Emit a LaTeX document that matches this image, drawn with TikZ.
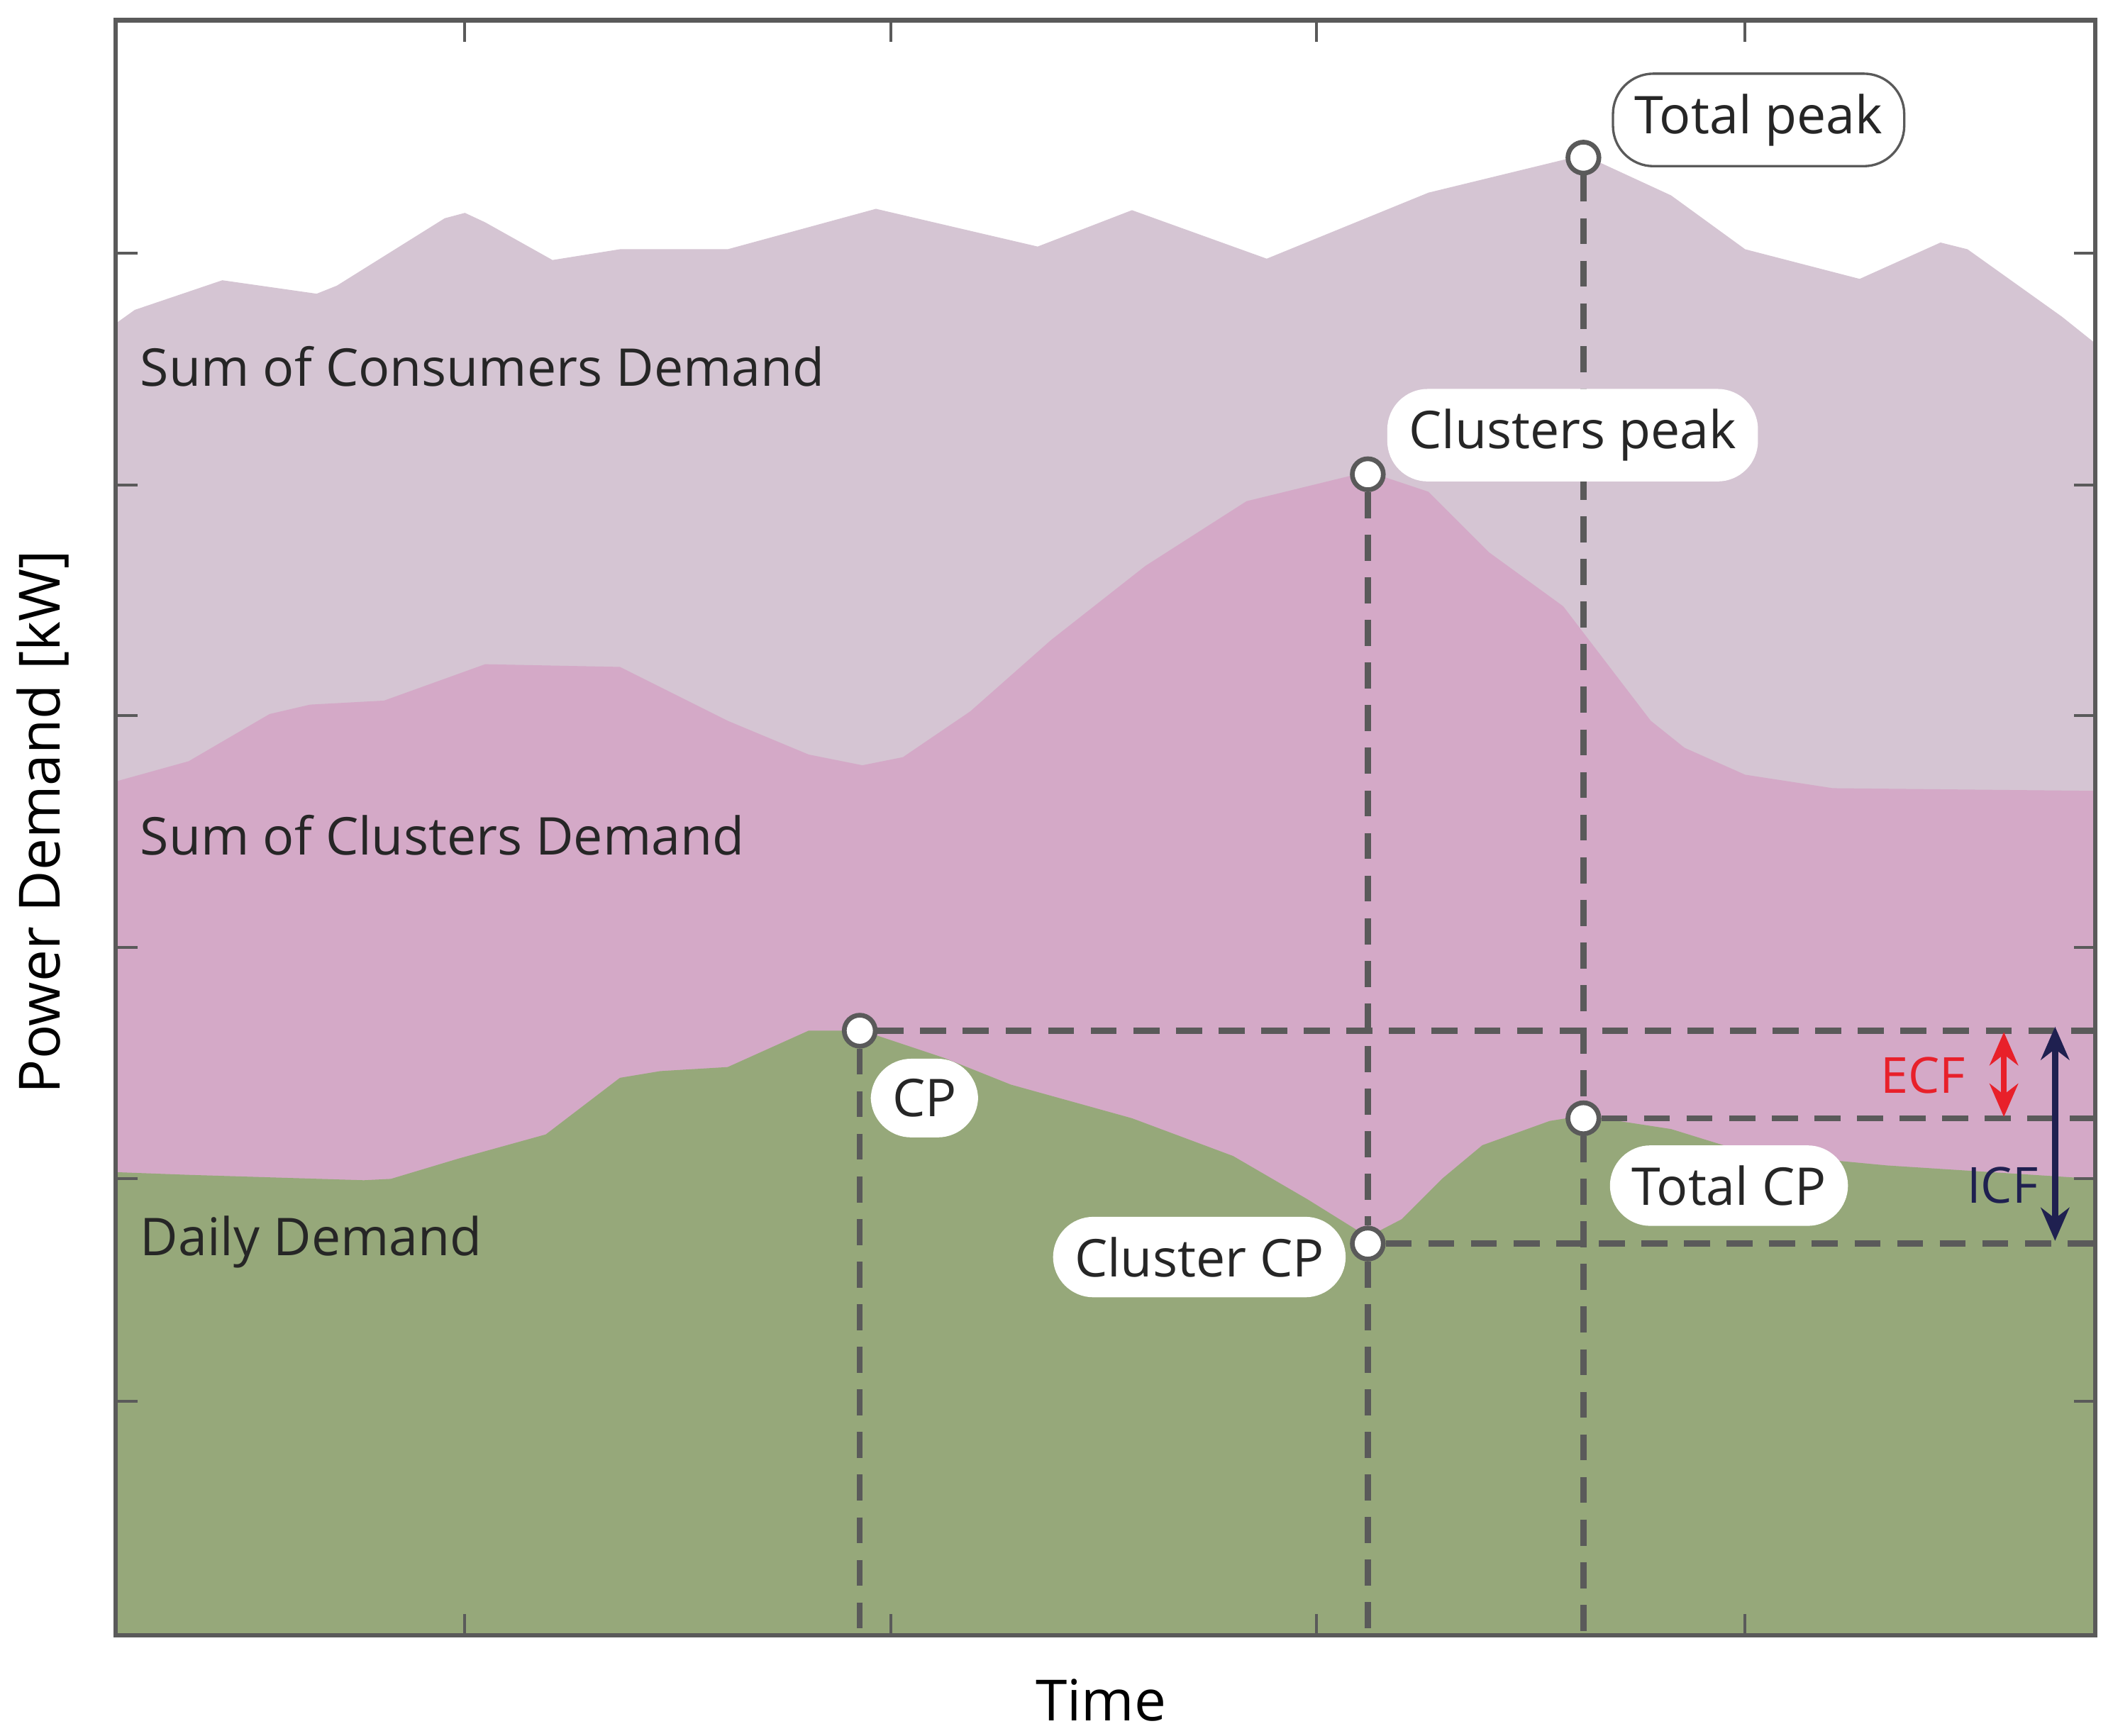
\documentclass[tikz,border=0pt]{standalone}
\usepackage{fontspec}
\setmainfont{Open Sans}
\usetikzlibrary{arrows.meta}
\definecolor{cons}{HTML}{D5C5D3}
\definecolor{clus}{HTML}{D4A9C7}
\definecolor{daily}{HTML}{96A87A}
\definecolor{dgray}{HTML}{5A5A5A}
\definecolor{ecf}{HTML}{E8202A}
\definecolor{icf}{HTML}{1F2050}
\begin{document}
\begin{tikzpicture}[x=0.02cm,y=-0.02cm,
 dashln/.style={dgray,line width=2.6pt,dash pattern=on 11pt off 7pt},
 pt/.style={circle,draw=dgray,fill=white,line width=2pt,minimum size=0.46cm,inner sep=0pt},
 lab/.style={font=\fontsize{22}{26}\selectfont,fill=white,rounded corners=0.6cm,inner xsep=0.32cm,inner ysep=0.3cm,text=black!85},
 reg/.style={font=\fontsize{22}{26}\selectfont,anchor=west,text=black!85},
 tk/.style={dgray,line width=1.2pt},
 dbl/.style={line width=2.6pt,{Stealth[length=14pt,width=12pt]}-{Stealth[length=14pt,width=12pt]}}]
\useasboundingbox (0,0) rectangle (1568,1288);
\fill[cons] (86,1214) -- (86,240) -- (100,230) -- (165,208) -- (235,218) -- (250,212) -- (330,162) -- (345,158) -- (360,165) -- (410,193) -- (460,185) -- (540,185) -- (650,155) -- (770,183) -- (840,156) -- (940,192) -- (1060,143) -- (1175,115) -- (1240,145) -- (1295,185) -- (1380,207) -- (1440,180) -- (1460,185) -- (1530,235) -- (1555,255) -- (1555,1214) -- cycle;
\fill[clus] (86,1214) -- (86,580) -- (140,565) -- (200,530) -- (230,523) -- (285,520) -- (360,493) -- (460,495) -- (540,535) -- (600,560) -- (640,568) -- (670,562) -- (720,528) -- (780,475) -- (850,420) -- (925,372) -- (1015,350) -- (1060,365) -- (1105,410) -- (1160,450) -- (1225,535) -- (1250,555) -- (1295,575) -- (1360,585) -- (1555,587) -- (1555,1214) -- cycle;
\fill[daily] (86,1214) -- (86,870) -- (140,872) -- (270,876) -- (290,875) -- (340,860) -- (405,842) -- (460,800) -- (490,795) -- (540,792) -- (600,765) -- (640,765) -- (700,785) -- (750,805) -- (840,830) -- (915,858) -- (970,890) -- (1015,918) -- (1040,905) -- (1070,875) -- (1100,850) -- (1150,832) -- (1175,828) -- (1240,838) -- (1295,855) -- (1400,865) -- (1555,875) -- (1555,1214) -- cycle;
% axes
\draw[dgray,line width=1.8pt] (86,15) rectangle (1555,1214);
\foreach \y in {188,360,531,703,875,1040}{\draw[tk] (86,\y) -- (102,\y); \draw[tk] (1555,\y) -- (1539,\y);}
\foreach \x in {345,661,977,1295}{\draw[tk] (\x,15) -- (\x,31); \draw[tk] (\x,1214) -- (\x,1198);}
% points
\node[pt] (cp) at (638,765) {};
\node[pt] (ccp) at (1015,923) {};
\node[pt] (tcp) at (1175,830) {};
\node[pt] (cpk) at (1015,352) {};
\node[pt] (tpk) at (1175,117) {};
\coordinate (cpB) at (638,1214); \coordinate (ccpB) at (1015,1214); \coordinate (tpkB) at (1175,1214);
\coordinate (cpR) at (1555,765); \coordinate (tcpR) at (1555,830); \coordinate (ccpR) at (1555,923);
\draw[dashln] (cp) -- (cpB);
\draw[dashln] (cpk) -- (ccp); \draw[dashln] (ccp) -- (ccpB);
\draw[dashln] (tpk) -- (tcp); \draw[dashln] (tcp) -- (tpkB);
\draw[dashln] (cp) -- (cpR);
\draw[dashln] (tcp) -- (tcpR);
\draw[dashln] (ccp) -- (ccpR);
% labels
\node[lab,draw=dgray,line width=1pt] (ltp) at (1305,89) {Total peak};
\node[lab] (lcp) at (1167,323) {Clusters peak};
\node[lab] (lc) at (686,815) {CP};
\node[lab] (lccp) at (890,933) {Cluster CP};
\node[lab] (ltcp) at (1283,880) {Total CP};
\node[reg] at (98,272) {Sum of Consumers Demand};
\node[reg] at (98,620) {Sum of Clusters Demand};
\node[reg] at (98,922) {Daily Demand};
\node[font=\fontsize{24}{28}\selectfont] at (817,1262) {Time};
\node[font=\fontsize{24}{28}\selectfont,rotate=90] at (32,610) {Power Demand [kW]};
% ECF / ICF
\coordinate (e1) at (1487,766); \coordinate (e2) at (1487,829);
\draw[ecf,dbl] (e1) -- (e2);
\node[text=ecf,font=\fontsize{21}{24}\selectfont] at (1427,798) {ECF};
\coordinate (i1) at (1525,762); \coordinate (i2) at (1525,921);
\draw[icf,dbl] (i1) -- (i2);
\node[text=icf,font=\fontsize{21}{24}\selectfont] at (1486,880) {ICF};
\end{tikzpicture}
\end{document}
